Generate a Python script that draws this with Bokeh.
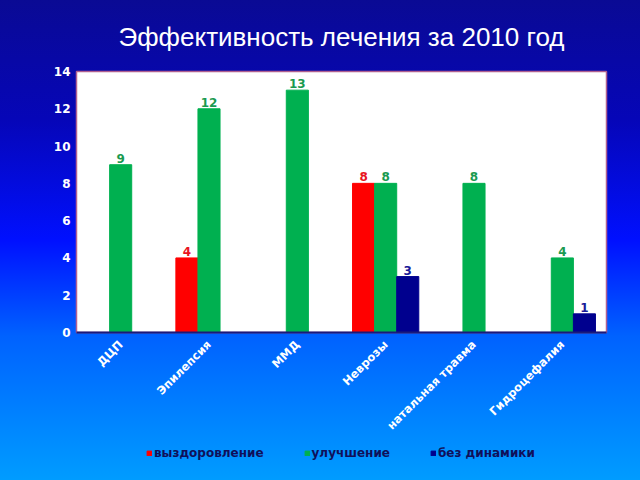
import math
from bokeh.plotting import figure
from bokeh.layouts import column
from bokeh.models import ColumnDataSource, FactorRange, Legend, LegendItem, LabelSet, Range1d
from bokeh.core.properties import value
from bokeh.transform import dodge
from bokeh.embed import file_html
from bokeh.resources import INLINE

categories = ["ДЦП", "Эпилепсия", "ММД", "Неврозы", "натальная травма", "Гидроцефалия"]
recovery = [0, 4, 0, 8, 0, 0]
improvement = [9, 12, 13, 8, 8, 4]
no_change = [0, 0, 0, 3, 0, 1]
series_names = ["выздоровление", "улучшение", "без динамики"]
y_ticks = [0, 2, 4, 6, 8, 10, 12, 14]

def lbl(vals):
    return [str(v) if v else "" for v in vals]

src = ColumnDataSource(dict(
    cat=categories, rec=recovery, imp=improvement, noc=no_change,
    rec_l=lbl(recovery), imp_l=lbl(improvement), noc_l=lbl(no_change),
))

p = figure(x_range=FactorRange(*categories), y_range=(0, 14),
           width=640, height=440, output_backend="svg", toolbar_location=None,
           title="Эффективность лечения за 2010 год",
           min_border_left=76, min_border_right=34, min_border_top=70, min_border_bottom=0)
p.border_fill_color = None
p.background_fill_color = "white"
p.outline_line_color = "#b06090"
p.outline_line_width = 1.5

p.title.align = "center"
p.title.text_color = "white"
p.title.text_font = "Liberation Sans"
p.title.text_font_size = "26px"
p.title.text_font_style = "normal"
p.title.standoff = 39

colors = ["#ff0000", "#00b050", "#00008e"]
label_colors = ["#e8141e", "#1a9a50", "#1a1a99"]
fields = [("rec", "rec_l", -0.25), ("imp", "imp_l", 0.0), ("noc", "noc_l", 0.25)]
for (f, fl, off), c, lc in zip(fields, colors, label_colors):
    p.vbar(x=dodge("cat", off, range=p.x_range), top=f, width=0.25, source=src,
           fill_color=c, line_color=c)
    ls = LabelSet(x=dodge("cat", off, range=p.x_range), y=f, text=fl, source=src,
                  text_align="center", text_baseline="bottom", y_offset=2,
                  text_color=lc, text_font_size="12px", text_font_style="bold",
                  text_font=value("DejaVu Sans"))
    p.add_layout(ls)

p.xgrid.grid_line_color = None
p.ygrid.grid_line_color = None

p.yaxis.ticker = y_ticks
p.yaxis.axis_line_color = None
p.yaxis.major_tick_line_color = None
p.yaxis.minor_tick_line_color = None
p.yaxis.major_tick_out = 0
p.yaxis.major_label_text_color = "white"
p.yaxis.major_label_text_font = "DejaVu Sans"
p.yaxis.major_label_text_font_style = "bold"
p.yaxis.major_label_text_font_size = "12px"
p.yaxis.major_label_standoff = 6

p.xaxis.axis_label = None
p.xaxis.axis_line_color = "#1a1a7a"
p.xaxis.axis_line_width = 2
p.xaxis.major_tick_line_color = None
p.xaxis.minor_tick_line_color = None
p.xaxis.major_tick_out = 0
p.xaxis.major_tick_in = 0
p.xaxis.major_label_orientation = math.pi / 4
p.xaxis.major_label_text_color = "white"
p.xaxis.major_label_text_font = "DejaVu Sans"
p.xaxis.major_label_text_font_style = "bold"
p.xaxis.major_label_text_font_size = "11.5px"
p.xaxis.major_label_standoff = 10

# legend strip: same series drawn out of view, only their legend swatches show
lg = figure(x_range=FactorRange(*categories), y_range=Range1d(100, 101),
            width=640, height=40, output_backend="svg", toolbar_location=None,
            x_axis_type=None, y_axis_type=None, min_border=0,
            min_border_left=0, min_border_right=0, min_border_top=0, min_border_bottom=0)
lg.border_fill_color = None
lg.background_fill_color = None
lg.outline_line_color = None
lg.grid.grid_line_color = None
lg_renderers = []
for (f, fl, off), c in zip(fields, colors):
    r = lg.vbar(x=dodge("cat", off, range=lg.x_range), top=f, width=0.25, source=src,
                fill_color=c, line_color=c)
    lg_renderers.append(r)

legend = Legend(items=[LegendItem(label=n, renderers=[r]) for n, r in zip(series_names, lg_renderers)],
                orientation="horizontal", location=(70, 20),
                background_fill_alpha=0, border_line_color=None,
                label_text_color="#10105a", label_text_font="DejaVu Sans",
                label_text_font_style="bold", label_text_font_size="12px",
                glyph_width=6, glyph_height=6, spacing=40, margin=0, padding=0,
                label_standoff=2)
lg.add_layout(legend, "center")

layout = column(p, lg, spacing=0)
layout.styles = {"background": "linear-gradient(to bottom, #0a0a94 0%, #0606b8 25%, #0010ff 50%, #0062ff 70%, #009cff 100%)"}

open("out.html", "w").write(file_html(layout, INLINE))
